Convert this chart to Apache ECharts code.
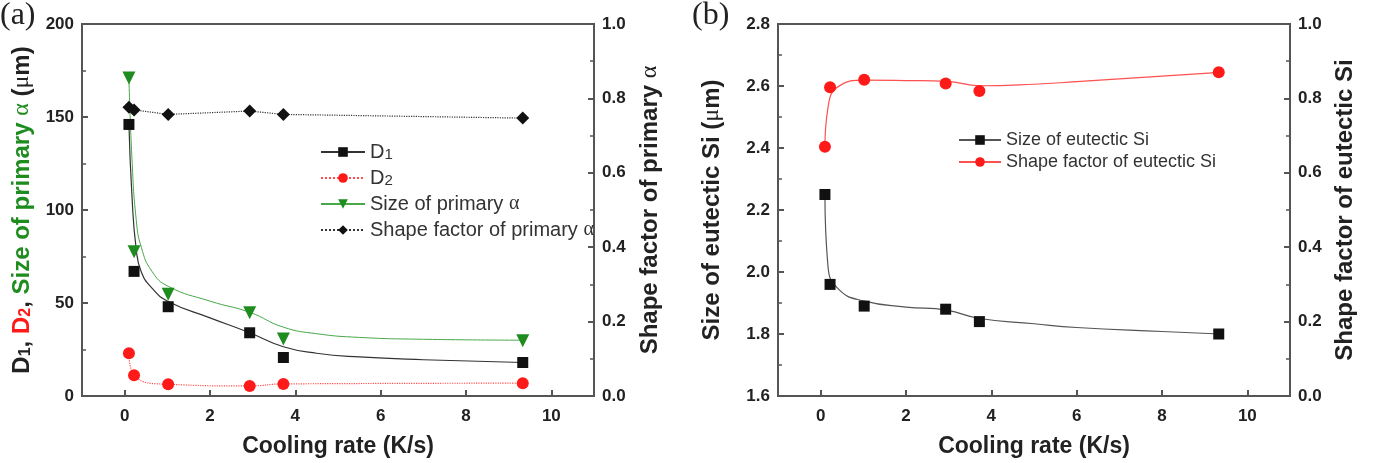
<!DOCTYPE html>
<html>
<head>
<meta charset="utf-8">
<script src="https://cdn.jsdelivr.net/npm/echarts@6/dist/echarts.min.js"></script>
<style>
  html, body { margin: 0; padding: 0; background: #fff; }
  #chart { width: 1377px; height: 463px; }
</style>
</head>
<body>
<div id="chart"></div>
<script>
  // cooling rate (K/s), shared by both panels
  const coolingRate = [0.1, 0.22, 1.02, 2.93, 3.72, 9.33]
  // panel (a) measured points
  const d1 = [146, 67, 48, 34, 20.7, 18]
  const d2 = [23, 11.2, 6.3, 5.4, 6.5, 6.9]
  const sizePrimary = [171, 77.6, 54.7, 44.7, 30.6, 29.7]
  const shapePrimary = [0.776, 0.769, 0.757, 0.766, 0.757, 0.747]
  // panel (a) fitted curves
  const fitXA = [0.1, 0.17, 0.27, 0.39, 0.64, 1.02, 2.0, 2.93, 3.72, 4.5, 5.5, 7.0, 9.33]
  const d1Fit = [146, 108, 79, 66.7, 58, 50.8, 42, 34, 26.5, 23, 21, 19.5, 18]
  const sizePrimaryFit = [171, 128, 95, 80, 67, 59, 51, 45, 37, 33.5, 31.5, 30.5, 30]
  // panel (b) measured points
  const sizeEutectic = [2.25, 1.96, 1.89, 1.88, 1.84, 1.80]
  const shapeEutectic = [0.67, 0.83, 0.85, 0.84, 0.82, 0.87]
  // panel (b) fitted curves
  const fitXB = [0.1, 0.17, 0.43, 1.03, 2.0, 2.95, 3.73, 5.0, 6.0, 8.0, 9.36]
  const sizeEutecticFit = [2.25, 2.02, 1.943, 1.906, 1.887, 1.877, 1.85, 1.833, 1.821, 1.808, 1.80]
  const shapeEutecticFit = [0.67, 0.774, 0.833, 0.849, 0.848, 0.846, 0.834, 0.838, 0.845, 0.86, 0.87]
  // tick labels
  const xTicks = [0, 2, 4, 6, 8, 10]
  const yTicksA = [0, 50, 100, 150, 200]
  const yTicksB = [1.6, 1.8, 2.0, 2.2, 2.4, 2.6, 2.8]
  const shapeTicks = [0, 0.2, 0.4, 0.6, 0.8, 1.0]

  const FONT = 'Liberation Sans, Arial, sans-serif'
  const SERIF = 'Liberation Serif, Times New Roman, serif'
  const AXIS_COLOR = '#555'
  const TEXT_COLOR = '#222'

  const zip = (xs, ys) => xs.map((x, i) => [x, ys[i]])
  const pairs = (ys) => zip(coolingRate, ys)

  const chart = echarts.init(document.getElementById('chart'))

  function xAxis(gridIndex) {
    return {
      type: 'value',
      gridIndex: gridIndex,
      min: -1,
      max: 11,
      name: 'Cooling rate (K/s)',
      nameLocation: 'middle',
      nameGap: 39,
      nameTextStyle: { fontFamily: FONT, fontWeight: 'bold', fontSize: 23, color: TEXT_COLOR },
      axisLine: { show: true, onZero: false, lineStyle: { color: AXIS_COLOR, width: 2 } },
      axisTick: { show: true, inside: true, length: 6, customValues: xTicks, lineStyle: { color: AXIS_COLOR, width: 2 } },
      axisLabel: { customValues: xTicks, margin: 12, fontFamily: FONT, fontWeight: 'bold', fontSize: 17, color: TEXT_COLOR },
      splitLine: { show: false }
    }
  }

  function yAxis(gridIndex, side, ticks, decimals, name, nameGap, nameStyle) {
    return {
      type: 'value',
      gridIndex: gridIndex,
      position: side,
      min: ticks[0],
      max: ticks[ticks.length - 1],
      interval: ticks[1] - ticks[0],
      name: name,
      nameLocation: 'middle',
      nameRotate: 90,
      nameGap: nameGap,
      nameTextStyle: nameStyle,
      axisLine: { show: true, onZero: false, lineStyle: { color: AXIS_COLOR, width: 2 } },
      axisTick: { show: true, inside: true, length: 6, lineStyle: { color: AXIS_COLOR, width: 2 } },
      minorTick: { show: true, splitNumber: 2, length: 4, lineStyle: { color: AXIS_COLOR, width: 1.5 } },
      axisLabel: {
        margin: 8,
        fontFamily: FONT, fontWeight: 'bold', fontSize: 17, color: TEXT_COLOR,
        formatter: (v) => v.toFixed(decimals)
      },
      splitLine: { show: false }
    }
  }

  const titleStyle = { fontFamily: FONT, fontWeight: 'bold', fontSize: 24, color: TEXT_COLOR }

  const leftNameA = '{k|D}{ks|1}{k|, }{r|D}{rs|2}{k|, }{g|Size of primary }{ga|α}{k| (}{ka|μ}{k|m)}'
  const leftNameStyleA = {
    rich: {
      k: { fontFamily: FONT, fontWeight: 'bold', fontSize: 24, color: TEXT_COLOR },
      ks: { fontFamily: FONT, fontWeight: 'bold', fontSize: 16, color: TEXT_COLOR, verticalAlign: 'bottom' },
      r: { fontFamily: FONT, fontWeight: 'bold', fontSize: 24, color: '#ff1a1a' },
      rs: { fontFamily: FONT, fontWeight: 'bold', fontSize: 16, color: '#ff1a1a', verticalAlign: 'bottom' },
      g: { fontFamily: FONT, fontWeight: 'bold', fontSize: 24, color: '#1e8c1e' },
      ga: { fontFamily: SERIF, fontSize: 24, color: '#1e8c1e' },
      ka: { fontFamily: SERIF, fontSize: 24, color: TEXT_COLOR }
    }
  }
  const rightNameA = '{k|Shape factor of primary }{ka|α}'
  const rightNameStyleA = {
    rich: {
      k: { fontFamily: FONT, fontWeight: 'bold', fontSize: 24, color: TEXT_COLOR },
      ka: { fontFamily: SERIF, fontSize: 24, color: TEXT_COLOR }
    }
  }
  const leftNameB = '{k|Size of eutectic Si (}{ka|μ}{k|m)}'

  const legendRich = (size) => ({
    n: { fontFamily: FONT, fontSize: size, color: '#333' },
    s: { fontFamily: FONT, fontSize: size - 5, color: '#333', verticalAlign: 'bottom' },
    a: { fontFamily: SERIF, fontSize: size, color: '#333' }
  })
  const legendNames = {
    'D1': '{n|D}{s|1}',
    'D2': '{n|D}{s|2}',
    'Size of primary α': '{n|Size of primary }{a|α}',
    'Shape factor of primary α': '{n|Shape factor of primary }{a|α}',
    'Size of eutectic Si': '{n|Size of eutectic Si}',
    'Shape factor of eutectic Si': '{n|Shape factor of eutectic Si}'
  }

  // markers only (line hidden), the curve comes from the fit series
  function points(name, x, y, data, symbol, size, color, line) {
    return {
      name: name, type: 'line', xAxisIndex: x, yAxisIndex: y, data: data,
      symbol: symbol, symbolSize: size, symbolRotate: symbol === 'triangle' ? 180 : 0,
      itemStyle: { color: color }, lineStyle: Object.assign({ opacity: 0 }, line), z: 3
    }
  }
  function fit(x, y, data, line) {
    return {
      name: 'fit', type: 'line', xAxisIndex: x, yAxisIndex: y, data: data,
      smooth: 0.5, showSymbol: false, silent: true, lineStyle: line, z: 2
    }
  }

  const d1Line = { color: '#333', width: 1.2 }
  const sizeLine = { color: '#49a849', width: 1 }
  const eutSizeLine = { color: '#555', width: 1.2 }
  const eutShapeLine = { color: '#ff5050', width: 1.2 }

  chart.setOption({
    animation: false,
    backgroundColor: '#fff',
    graphic: [
      { type: 'text', left: 0, top: 0, style: { text: '(a)', font: '32px ' + SERIF, fill: TEXT_COLOR } },
      { type: 'text', left: 692, top: 0, style: { text: '(b)', font: '32px ' + SERIF, fill: TEXT_COLOR } }
    ],
    grid: [
      { left: 82, top: 24, width: 512, height: 379, show: true, borderColor: AXIS_COLOR, borderWidth: 2 },
      { left: 778, top: 24, width: 512, height: 376, show: true, borderColor: AXIS_COLOR, borderWidth: 2 }
    ],
    legend: [
      {
        data: ['D1', 'D2', 'Size of primary α', 'Shape factor of primary α'],
        orient: 'vertical', left: 320, top: 142, padding: 0,
        itemWidth: 44, itemHeight: 12, itemGap: 6,
        lineStyle: { opacity: 1 },
        formatter: (name) => legendNames[name],
        textStyle: { rich: legendRich(20) }
      },
      {
        data: ['Size of eutectic Si', 'Shape factor of eutectic Si'],
        orient: 'vertical', left: 958, top: 131, padding: 0,
        itemWidth: 42, itemHeight: 12, itemGap: 4,
        lineStyle: { opacity: 1 },
        formatter: (name) => legendNames[name],
        textStyle: { rich: legendRich(18) }
      }
    ],
    xAxis: [xAxis(0), xAxis(1)],
    yAxis: [
      yAxis(0, 'left', yTicksA, 0, leftNameA, 48, leftNameStyleA),
      yAxis(0, 'right', shapeTicks, 1, rightNameA, 44, rightNameStyleA),
      yAxis(1, 'left', yTicksB, 1, leftNameB, 54, { rich: rightNameStyleA.rich }),
      yAxis(1, 'right', shapeTicks, 1, 'Shape factor of eutectic Si', 43, titleStyle)
    ],
    series: [
      points('D1', 0, 0, pairs(d1), 'rect', 11, '#111', d1Line),
      fit(0, 0, zip(fitXA, d1Fit), d1Line),
      {
        name: 'D2', type: 'line', xAxisIndex: 0, yAxisIndex: 0,
        data: pairs(d2), smooth: 0.5,
        symbol: 'circle', symbolSize: 12,
        itemStyle: { color: '#ff1a1a' },
        lineStyle: { color: '#ff4d4d', width: 1.2, type: 'dotted' }
      },
      points('Size of primary α', 0, 0, pairs(sizePrimary), 'triangle', 13, '#1e8c1e', sizeLine),
      fit(0, 0, zip(fitXA, sizePrimaryFit), sizeLine),
      {
        name: 'Shape factor of primary α', type: 'line', xAxisIndex: 0, yAxisIndex: 1,
        data: pairs(shapePrimary),
        symbol: 'diamond', symbolSize: 13,
        itemStyle: { color: '#111' },
        lineStyle: { color: '#333', width: 1.2, type: 'dotted' }
      },
      points('Size of eutectic Si', 1, 2, pairs(sizeEutectic), 'rect', 11, '#111', eutSizeLine),
      fit(1, 2, zip(fitXB, sizeEutecticFit), eutSizeLine),
      points('Shape factor of eutectic Si', 1, 3, pairs(shapeEutectic), 'circle', 12, '#ff1a1a', eutShapeLine),
      fit(1, 3, zip(fitXB, shapeEutecticFit), eutShapeLine)
    ]
  })
</script>
</body>
</html>
